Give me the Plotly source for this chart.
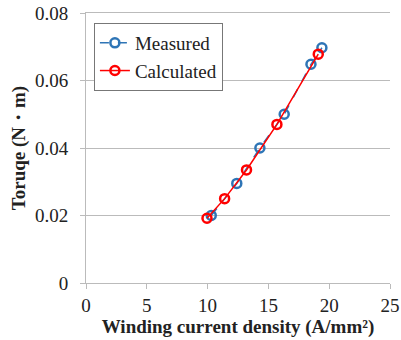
import plotly.graph_objects as go

meas_x = [10.3, 12.4, 14.3, 16.3, 18.5, 19.4]
meas_y = [0.0200, 0.0295, 0.0400, 0.0500, 0.0648, 0.0697]
calc_x = [9.95, 11.4, 13.2, 15.7, 19.1]
calc_y = [0.0192, 0.0250, 0.0335, 0.0470, 0.0678]

x_ticks = [0, 5, 10, 15, 20, 25]
y_ticks = [0, 0.02, 0.04, 0.06, 0.08]
y_labels = ["0", "0.02", "0.04", "0.06", "0.08"]

blue = "#2E75B6"
red = "#FF0000"
font = "Times New Roman, Liberation Serif, DejaVu Serif"

fig = go.Figure()
fig.add_trace(go.Scatter(x=meas_x, y=meas_y, mode="lines+markers", name="Measured",
                         line=dict(color=blue, width=1.5, dash="dash"),
                         marker=dict(symbol="circle-open", size=9, color=blue, line=dict(width=2.5))))
fig.add_trace(go.Scatter(x=calc_x, y=calc_y, mode="lines+markers", name="Calculated",
                         line=dict(color=red, width=1.5),
                         marker=dict(symbol="circle-open", size=9, color=red, line=dict(width=2.5))))

fig.update_layout(
    width=401, height=340,
    margin=dict(l=86, r=11, t=13, b=57),
    paper_bgcolor="white", plot_bgcolor="white",
    font=dict(family=font, size=19, color="#222"),
    showlegend=True,
    legend=dict(x=0.026, y=0.963, xanchor="left", yanchor="top",
                bordercolor="#777", borderwidth=1, bgcolor="white",
                font=dict(family=font, size=19, color="#222"),
                tracegroupgap=0, itemwidth=30),
    xaxis=dict(range=[0, 25], tickvals=x_ticks, showgrid=False, automargin=False,
               showline=True, linecolor="#BBB", linewidth=1, mirror=True,
               ticks="outside", ticklen=5, tickcolor="#BBB",
               tickfont=dict(family=font, size=19, color="#222"),
               title=dict(text="<b>Winding current density (A/mm²)</b>", standoff=2,
                          font=dict(family=font, size=19, color="#222"))),
    yaxis=dict(range=[0, 0.08], tickvals=y_ticks, ticktext=y_labels, automargin=False,
               showgrid=True, gridcolor="#BBB", gridwidth=1,
               showline=True, linecolor="#BBB", linewidth=1,
               ticks="outside", ticklen=5, tickcolor="#BBB", zeroline=False,
               ticklabelstandoff=8,
               tickfont=dict(family=font, size=19, color="#222"),
               title=dict(text="<b>Toruqe (N・m)</b>", standoff=4,
                          font=dict(family=font, size=19, color="#222"))),
)

fig.write_html("out.html", config={"displayModeBar": False},
               post_script="document.body.style.margin='0';document.body.style.overflow='hidden';")
